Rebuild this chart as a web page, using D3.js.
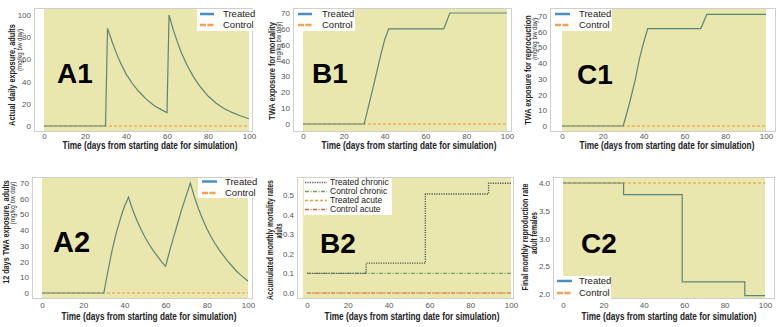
<!DOCTYPE html>
<html>
<head>
<meta charset="utf-8">
<script src="https://cdn.jsdelivr.net/npm/d3@7"></script>
<style>
  body { margin: 0; background: #fff; }
  svg { display: block; }
</style>
</head>
<body>
<svg id="chart" width="782" height="327"></svg>
<script>
// ---- Data ----
const xTicks = [0, 20, 40, 60, 80, 100];

const a1Treated = [[0,0],[30,0],[31,88],[33,77],[35,67],[37,58],[40,47],[43,38.5],[46,31.5],[50,24],[54,18],[57,15],[60,12],
  [61,100],[63,87],[65,76],[67,66],[70,54],[73,44],[76,36],[80,27],[84,20.5],[88,15.5],[92,12],[96,9],[100,6.5]];
const a1Control = [[0,0],[100,0]];

const b1Treated = [[0,0],[30,0],[34,21],[38,43],[40,53],[42,60],[69,60],[72,70],[100,70]];
const b1Control = [[0,0],[100,0]];

const c1Treated = [[0,0],[30,0],[33,14],[36,30],[38,43],[40,53],[42,62],[68,62],[71,71],[100,71]];
const c1Control = [[0,0],[100,0]];

const a2Treated = [[0,0],[30,0],[32,14],[34,27],[36,38],[38,47],[40,55],[42,61],[44,53],[46,46.5],[48,40.5],[50,35.5],
  [52,31],[54,27],[56,23.5],[58,20],[60,17],[62,27],[64,36],[66,45],[68,54],[70,62],[72,70],[74,61],[76,53.5],[78,47],
  [80,41],[82,36],[84,31.5],[86,27.5],[88,24],[90,20.5],[92,17.5],[94,14.5],[96,12],[98,9.8],[100,7.5]];
const a2Control = [[0,0],[100,0]];

const b2TreatedChronic = [[0,0.1],[29,0.152],[58,0.505],[89,0.56],[100,0.56]];
const b2ControlChronic = [[0,0.1],[100,0.1]];
const b2TreatedAcute = [[0,0],[100,0]];
const b2ControlAcute = [[0,0],[100,0]];

const c2Treated = [[0,4.0],[30,3.79],[59,2.22],[90,1.97],[100,1.97]];
const c2Control = [[0,4.0],[100,4.0]];

// ---- Styles ----
const YELLOW = "#e9e7ad";
const sTreated = { color: "#5a8579", width: 1.2, dash: null, lcolor: "#4a8fc4" };
const sControl = { color: "#eb963a", width: 1.2, dash: "3,2", lcolor: "#f5a05a" };
const sTChronic = { color: "#4f5753", width: 1.3, dash: "1.2,1.2", lcolor: "#555" };
const sCChronic = { color: "#7d9a6a", width: 1.2, dash: "4,1.5,1,1.5", lcolor: "#7d9a6a" };
const sTAcute = { color: "#e89a40", width: 1.2, dash: "3,2", lcolor: "#f0a050" };
const sCAcute = { color: "#c86050", width: 1.2, dash: "4,1.5,1,1.5", lcolor: "#d06050" };

const sans = "'Liberation Sans', Arial, sans-serif";

const panels = [
  { id: "A1", fx: [34, 253], fy: [8, 132], xr: [44, 249], yd: [0, 100], yr: [126, 15], yTicks: [0,20,40,60,80,100], fmt: d3.format("d"),
    series: [
      { name: "Control", data: a1Control, s: sControl },
      { name: "Treated", data: a1Treated, s: sTreated }],
    legend: { x: 197, y: 9, w: 56, h: 22, order: ["Treated", "Control"], lx: 200, lw: 14, tx: 223, rows: [14, 25] },
    big: [57, 83, 28], ylab: ["Actual daily exposure, adults", 12, 75, 102], sub: ["(mg/kg bw day)", 20, 50, 42],
    xlab: [150, 149], tickBase: 139 },
  { id: "B1", fx: [293, 512], fy: [8, 132], xr: [303, 507], yd: [0, 70], yr: [124, 13], yTicks: d3.range(0, 71, 10), fmt: d3.format("d"),
    series: [
      { name: "Control", data: b1Control, s: sControl },
      { name: "Treated", data: b1Treated, s: sTreated }],
    legend: { x: 295, y: 9, w: 60, h: 22, order: ["Treated", "Control"], lx: 298, lw: 14, tx: 322, rows: [14, 25] },
    big: [312, 83, 28], ylab: ["TWA exposure for mortality", 272, 71, 98], sub: ["(mg/kg bw day)", 279, 42, 41],
    xlab: [409, 149], tickBase: 139 },
  { id: "C1", fx: [550, 776], fy: [8, 132], xr: [562, 766], yd: [0, 70], yr: [126, 16], yTicks: d3.range(0, 71, 10), fmt: d3.format("d"),
    series: [
      { name: "Control", data: c1Control, s: sControl },
      { name: "Treated", data: c1Treated, s: sTreated }],
    legend: { x: 553, y: 9, w: 59, h: 22, order: ["Treated", "Control"], lx: 555, lw: 15, tx: 579, rows: [14, 25] },
    big: [577, 84, 28], ylab: ["TWA exposure for reprocuction", 528, 70, 110], sub: ["(mg/kg bw day)", 535, 39, 42],
    xlab: [667, 149], tickBase: 139 },
  { id: "A2", fx: [32, 253], fy: [177, 299], xr: [42, 248], yd: [0, 70], yr: [293, 183], yTicks: d3.range(0, 71, 10), fmt: d3.format("d"),
    series: [
      { name: "Control", data: a2Control, s: sControl },
      { name: "Treated", data: a2Treated, s: sTreated }],
    legend: { x: 198, y: 178, w: 55, h: 20, order: ["Treated", "Control"], lx: 202, lw: 15, tx: 225, rows: [181.5, 193] },
    big: [53, 252, 29], ylab: ["12 days TWA exposure, adults", 6, 232, 104], sub: ["(mg/kg bw day)", 13, 203, 43],
    xlab: [149, 319.5], tickBase: 308 },
  { id: "B2", fx: [297, 514], fy: [177, 299], xr: [307, 511], yd: [0, 0.5], yr: [293, 195], yTicks: [0, 0.1, 0.2, 0.3, 0.4, 0.5], fmt: d3.format(".1f"),
    span: [-2, 100], step: true,
    series: [
      { name: "Control acute", data: b2ControlAcute, s: sCAcute },
      { name: "Treated acute", data: b2TreatedAcute, s: sTAcute },
      { name: "Control chronic", data: b2ControlChronic, s: sCChronic },
      { name: "Treated chronic", data: b2TreatedChronic, s: sTChronic }],
    legend: { x: 304, y: 178, w: 88, h: 37, order: ["Treated chronic", "Control chronic", "Treated acute", "Control acute"],
      lx: 305, lw: 22, tx: 330, rows: [182.5, 191.5, 200.5, 209.5], fs: 8.5, thin: true },
    big: [320, 253, 28], ylab: ["Accumulated monthly mortality rates", 270, 240, 120], sub: ["adults", 279, 231, 15, true],
    xlab: [412, 319.5], tickBase: 308 },
  { id: "C2", fx: [553, 775], fy: [177, 299], xr: [563, 765], yd: [2, 4], yr: [294, 183], yTicks: [2.0, 2.5, 3.0, 3.5, 4.0], fmt: d3.format(".1f"),
    step: true,
    series: [
      { name: "Control", data: c2Control, s: sControl },
      { name: "Treated", data: c2Treated, s: sTreated }],
    legend: { x: 555, y: 276, w: 56, h: 23, order: ["Treated", "Control"], lx: 557, lw: 15, tx: 579, rows: [281, 293] },
    big: [581, 253, 28], ylab: ["Final monthly reproduction rate", 525, 237, 107], sub: ["adult females", 534, 233, 42, true],
    xlab: [669, 319.5], tickBase: 308 }
];

const svg = d3.select("#chart");

// text squeezed horizontally to the width seen in the picture (narrow bold face)
function squeezed(g, txt, cx, cy, len, size, bold, rotate, fill) {
  const t = g.append("text")
    .attr("text-anchor", "middle")
    .style("font-family", sans).style("font-size", size + "px")
    .style("font-weight", bold ? "bold" : "normal")
    .attr("fill", fill)
    .text(txt);
  if (rotate) t.attr("dy", "0.35em");
  const natural = t.node().getComputedTextLength();
  const k = Math.min(1, len / natural);
  t.attr("transform", `translate(${cx},${cy})${rotate ? " rotate(-90)" : ""} scale(${k},1)`);
  return t;
}

panels.forEach(p => {
  const g = svg.append("g").attr("class", "panel-" + p.id);
  const x = d3.scaleLinear().domain([0, 100]).range(p.xr);
  const y = d3.scaleLinear().domain(p.yd).range(p.yr);
  const [fx0, fx1] = p.fx, [fy0, fy1] = p.fy;

  // clip to the axes frame
  g.append("clipPath").attr("id", "clip-" + p.id)
    .append("rect").attr("x", fx0).attr("y", fy0).attr("width", fx1 - fx0).attr("height", fy1 - fy0);

  g.append("rect").attr("x", fx0).attr("y", fy0).attr("width", fx1 - fx0).attr("height", fy1 - fy0).attr("fill", "#fff");

  // yellow span over the simulation period
  const span = p.span || [0, 100];
  g.append("rect")
    .attr("x", x(span[0])).attr("y", fy0)
    .attr("width", x(span[1]) - x(span[0])).attr("height", fy1 - fy0)
    .attr("fill", YELLOW);

  // lines
  const line = d3.line().x(d => x(d[0])).y(d => y(d[1]))
    .curve(p.step ? d3.curveStepAfter : d3.curveLinear);
  const plot = g.append("g").attr("clip-path", `url(#clip-${p.id})`);
  p.series.forEach(sr => {
    plot.append("path")
      .datum(sr.data)
      .attr("d", line)
      .attr("fill", "none")
      .attr("stroke", sr.s.color)
      .attr("stroke-width", sr.s.width)
      .attr("stroke-dasharray", sr.s.dash);
  });

  // frame
  g.append("rect").attr("x", fx0 + 0.5).attr("y", fy0 + 0.5)
    .attr("width", fx1 - fx0 - 1).attr("height", fy1 - fy0 - 1)
    .attr("fill", "none").attr("stroke", "#cfcfcf");

  // axes (no tick marks, gray labels)
  const xAxis = g.append("g").attr("transform", `translate(0,${fy1})`)
    .call(d3.axisBottom(x).tickValues(xTicks).tickSize(0));
  xAxis.selectAll("text").attr("y", p.tickBase - fy1).attr("dy", 0);
  const yAxis = g.append("g").attr("transform", `translate(${fx0},0)`)
    .call(d3.axisLeft(y).tickValues(p.yTicks).tickFormat(p.fmt).tickSize(0).tickPadding(3));
  [xAxis, yAxis].forEach(a => {
    a.select(".domain").remove();
    a.selectAll("text").attr("fill", "#555").style("font-family", sans).style("font-size", "8px");
  });

  // x label
  squeezed(g, "Time (days from starting date for simulation)", p.xlab[0], p.xlab[1], 175, 10, true, false, "#222");

  // y label (main and second line)
  squeezed(g, p.ylab[0], p.ylab[1], p.ylab[2], p.ylab[3], 8.5, true, true, "#222");
  if (p.sub[4]) squeezed(g, p.sub[0], p.sub[1], p.sub[2], p.sub[3], 8.5, true, true, "#222");
  else squeezed(g, p.sub[0], p.sub[1], p.sub[2], p.sub[3], 6.5, false, true, "#333");

  // big panel letter
  g.append("text")
    .attr("x", p.big[0]).attr("y", p.big[1])
    .style("font-family", sans).style("font-size", p.big[2] + "px").style("font-weight", "bold")
    .attr("fill", "#000")
    .text(p.id);

  // legend
  const L = p.legend;
  const lg = g.append("g");
  lg.append("rect").attr("x", L.x).attr("y", L.y).attr("width", L.w).attr("height", L.h)
    .attr("fill", "#fff").attr("fill-opacity", 0.95);
  L.order.forEach((name, i) => {
    const sr = p.series.find(s => s.name === name);
    lg.append("line")
      .attr("x1", L.lx).attr("x2", L.lx + L.lw)
      .attr("y1", L.rows[i]).attr("y2", L.rows[i])
      .attr("stroke", sr.s.lcolor)
      .attr("stroke-width", L.thin ? 1.3 : 2.5)
      .attr("stroke-dasharray", L.thin ? sr.s.dash : (sr.s.dash ? "6,1.5" : null));
    lg.append("text")
      .attr("x", L.tx).attr("y", L.rows[i]).attr("dy", "0.35em")
      .style("font-family", sans).style("font-size", (L.fs || 9.5) + "px")
      .attr("fill", "#222")
      .text(name);
  });
});
</script>
</body>
</html>
